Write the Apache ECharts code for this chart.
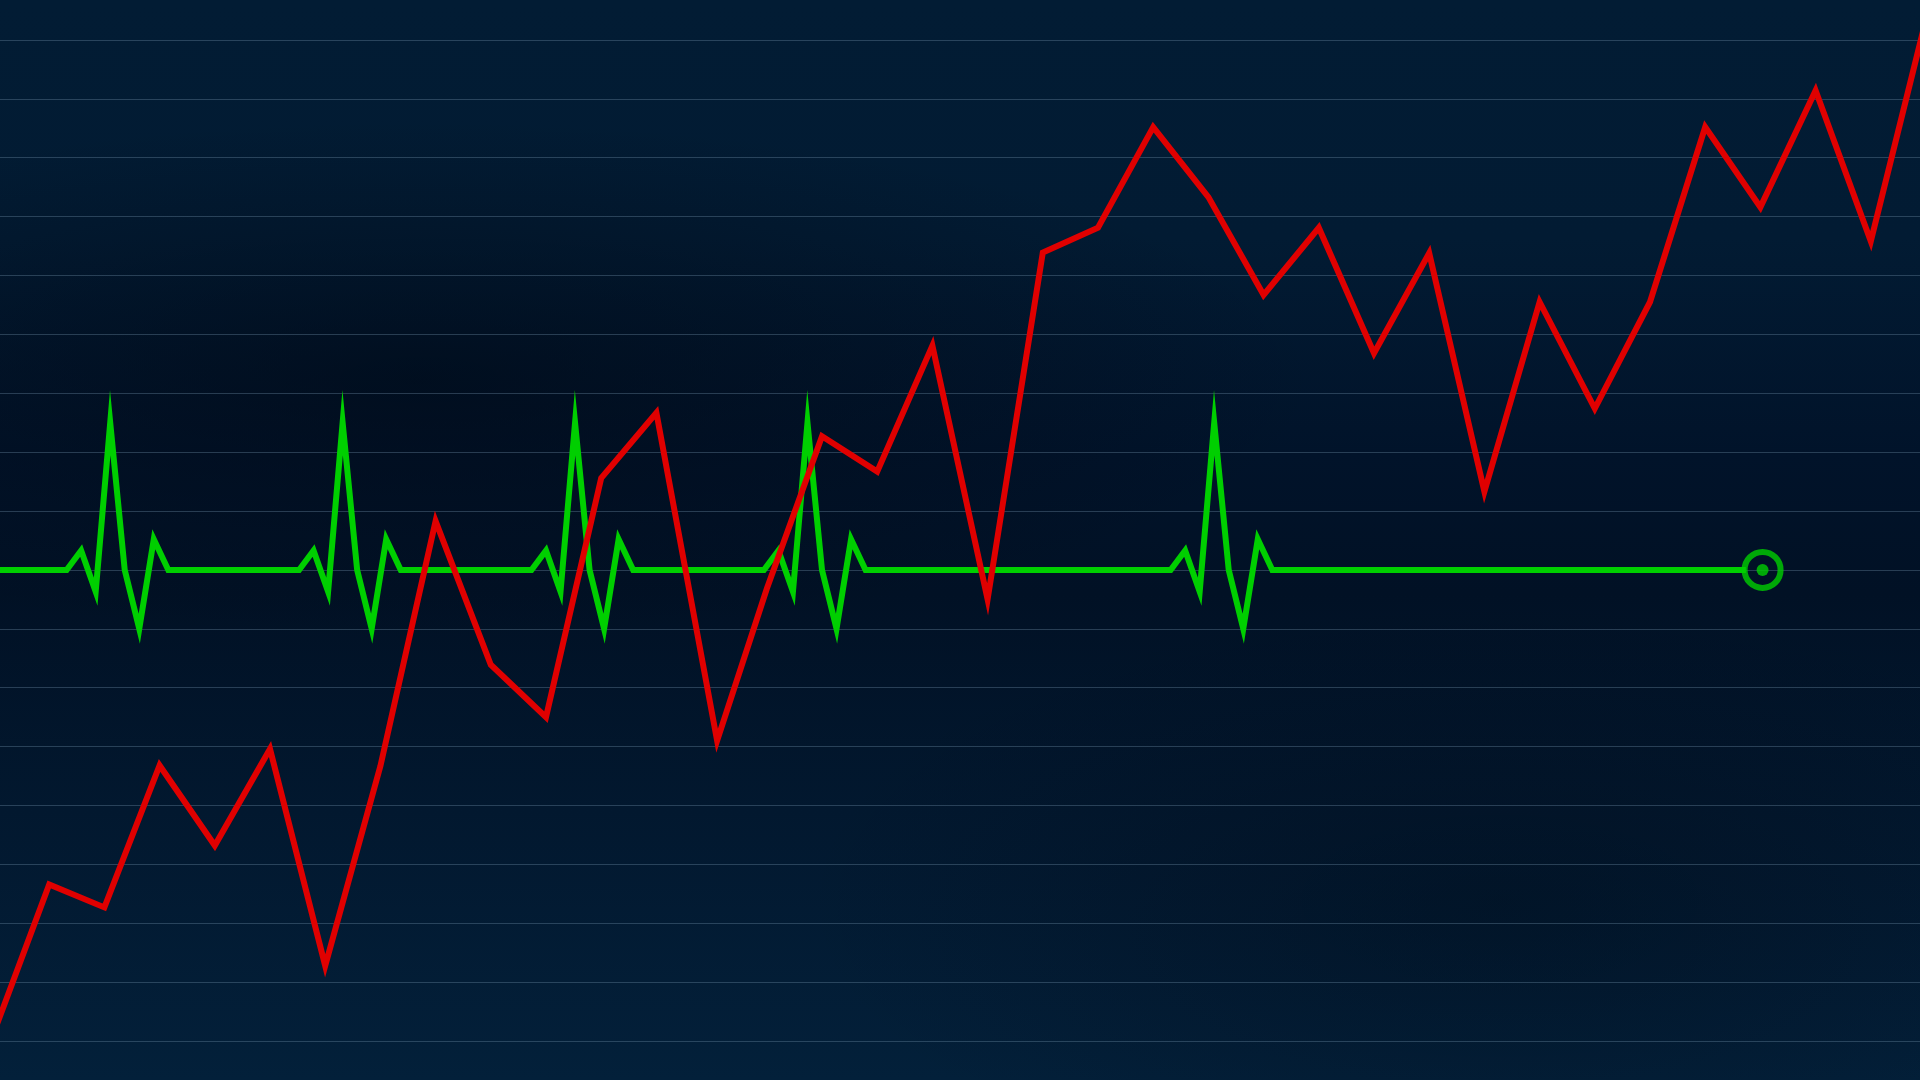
<!DOCTYPE html>
<html>
<head>
<meta charset="utf-8">
<script src="https://cdn.jsdelivr.net/npm/echarts@6/dist/echarts.min.js"></script>
<style>
  html, body { margin: 0; padding: 0; width: 1920px; height: 1080px; overflow: hidden; position: relative; }
  #bg {
    position: absolute; left: 0; top: 0; width: 1920px; height: 1080px;
    background:
      radial-gradient(ellipse 900px 260px at 420px 380px, rgba(0,8,20,0.55), rgba(0,8,20,0) 100%),
      radial-gradient(ellipse 700px 300px at 1500px 900px, rgba(0,8,20,0.35), rgba(0,8,20,0) 100%),
      linear-gradient(180deg, #021c34 0%, #021b33 22%, #01132a 42%, #011125 55%, #02182f 75%, #03203a 100%);
  }
  /* chart canvas extends slightly beyond the window so the lines run off every edge */
  #chart { position: absolute; left: -6px; top: -19px; width: 1932px; height: 1119px; }
</style>
</head>
<body>
<div id="bg"></div>
<div id="chart"></div>
<script>
// Red line: step positions and values
const redX = [0, 1, 2, 3, 4, 5, 6, 7, 8, 9,
              10, 11, 12, 13.1, 14, 15, 16, 17, 18, 19,
              20, 21, 22, 23, 24, 25, 26, 27, 28, 29,
              30, 31, 32, 33, 34, 35];
const redValues = [-7.85, -5.34, -5.73, -3.32, -4.68, -3.04, -6.72, -3.33, 0.83, -1.61,
                   -2.50, 1.56, 2.67, -2.90, -0.32, 2.27, 1.67, 3.81, -0.50, 5.39,
                   5.81, 7.52, 6.33, 4.67, 5.81, 3.68, 5.38, 1.33, 4.55, 2.74,
                   4.55, 7.52, 6.16, 8.14, 5.58, 9.35];

// Green heartbeat trace: vertex sample positions and values (baseline 0)
const greenX = [0,
  5, 6, 7, 8, 9, 10, 11, 12,
  21, 22, 23, 24, 25, 26, 27, 28,
  37, 38, 39, 40, 41, 42, 43, 44,
  53, 54, 55, 56, 57, 58, 59, 60,
  81, 82, 83, 84, 85, 86, 87, 88,
  120.6];
const greenY = [0,
  0, 0.33, -0.37, 2.5, 0, -1.0, 0.52, 0,
  0, 0.33, -0.37, 2.5, 0, -1.0, 0.52, 0,
  0, 0.33, -0.37, 2.5, 0, -1.0, 0.52, 0,
  0, 0.33, -0.37, 2.5, 0, -1.0, 0.52, 0,
  0, 0.33, -0.37, 2.5, 0, -1.0, 0.52, 0,
  0];
const markerX = [121.75];
const markerY = [0];

// Axis ranges
const yMin = -9, yMax = 10, yStep = 1;
const redXMax = 35;
const greenXMax = 133;

const GREEN = '#00cf00';
const RED = '#e00000';

const redData = redValues.map((v, i) => [redX[i], v]);
const greenData = greenX.map((x, i) => [x, greenY[i]]);
const markerData = markerX.map((x, i) => [x, markerY[i]]);

const chart = echarts.init(document.getElementById('chart'), null, { renderer: 'canvas' });
chart.setOption({
  backgroundColor: 'transparent',
  animation: false,
  grid: { left: 0, right: 0, top: 0, bottom: 0, containLabel: false },
  xAxis: [
    { type: 'value', min: 0, max: redXMax, show: false, splitLine: { show: false } },
    { type: 'value', min: 0, max: greenXMax, show: false, position: 'top', splitLine: { show: false } }
  ],
  yAxis: {
    type: 'value', min: yMin, max: yMax, interval: yStep,
    axisLine: { show: false }, axisTick: { show: false }, axisLabel: { show: false },
    splitLine: { show: true, lineStyle: { color: 'rgba(110,140,165,0.36)', width: 1 } }
  },
  series: [
    {
      type: 'line', xAxisIndex: 1, data: greenData, showSymbol: false, symbol: 'none',
      lineStyle: { color: GREEN, width: 6, join: 'miter', miterLimit: 60, cap: 'butt' },
      silent: true, z: 2
    },
    {
      type: 'line', xAxisIndex: 0, data: redData, showSymbol: false, symbol: 'none',
      lineStyle: { color: RED, width: 6, join: 'miter', miterLimit: 60, cap: 'butt' },
      silent: true, z: 3
    },
    {
      type: 'scatter', xAxisIndex: 1, data: markerData, symbol: 'circle', symbolSize: 36,
      itemStyle: { color: 'rgba(0,0,0,0)', borderColor: GREEN, borderWidth: 6 },
      silent: true, z: 4
    },
    {
      type: 'scatter', xAxisIndex: 1, data: markerData, symbol: 'circle', symbolSize: 12,
      itemStyle: { color: GREEN },
      silent: true, z: 4
    }
  ]
});
</script>
</body>
</html>
